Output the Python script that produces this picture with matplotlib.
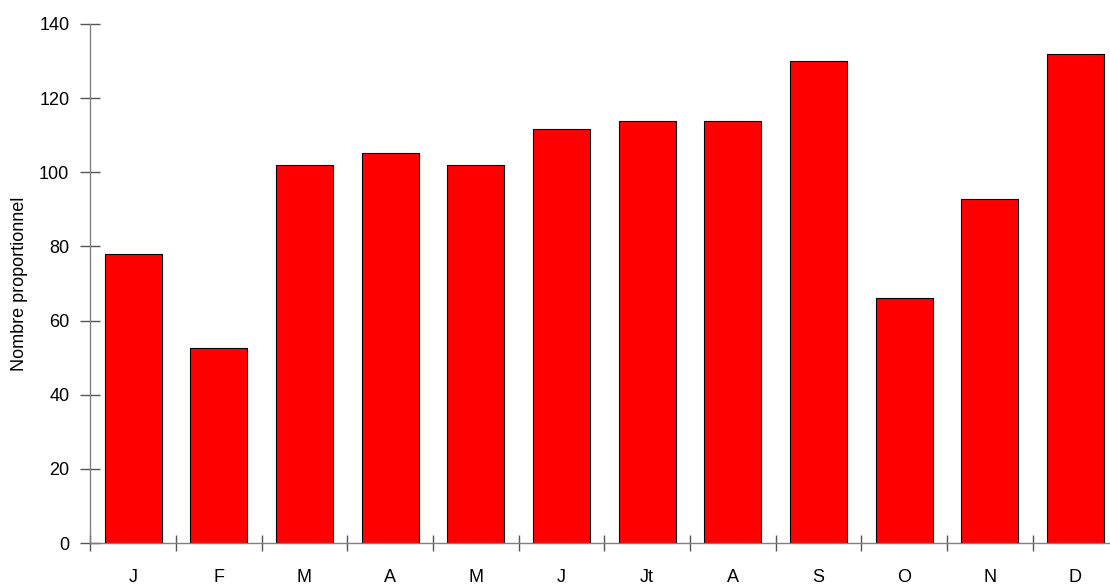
import matplotlib
matplotlib.use("Agg")
import matplotlib.pyplot as plt
import numpy as np

months = ["J", "F", "M", "A", "M", "J", "Jt", "A", "S", "O", "N", "D"]
values = [78, 52.5, 102, 105.2, 102, 111.6, 113.8, 113.8, 130, 66, 92.8, 131.8]
yticks = [0, 20, 40, 60, 80, 100, 120, 140]

plt.rcParams['font.family'] = ['Liberation Sans', 'DejaVu Sans']

fig = plt.figure(figsize=(11.10, 5.86), dpi=100)
W, H = 1110, 586
left, right, top, bottom = 90.2, 1118.3, 24, 543
ax = fig.add_axes([left / W, (H - bottom) / H, (right - left) / W, (bottom - top) / H])

x = np.arange(len(months))
ax.bar(x, values, width=0.665, color="#ff0000", edgecolor="black", linewidth=0.8, zorder=2)

ax.set_xlim(-0.5, len(months) - 0.5)
ax.set_ylim(0, 140)
ax.set_yticks(yticks)
ax.set_yticklabels([str(v) for v in yticks])

ax.set_xticks(x)
ax.set_xticklabels(months)
ax.set_xticks(np.arange(len(months)) - 0.5, minor=True)
ax.tick_params(axis='x', which='major', length=0, pad=18.5, labelsize=13)
ax.tick_params(axis='x', which='minor', direction='inout', length=11, width=1, color='#555555')
ax.tick_params(axis='y', direction='inout', length=14, width=1, color='#555555', labelsize=13, pad=8)

for s in ["top", "right"]:
    ax.spines[s].set_visible(False)
for s in ["left", "bottom"]:
    ax.spines[s].set_color("#808080")
    ax.spines[s].set_linewidth(1)

ax.set_ylabel("Nombre proportionnel", fontsize=13, labelpad=8)

fig.savefig("out.png", dpi=100)
